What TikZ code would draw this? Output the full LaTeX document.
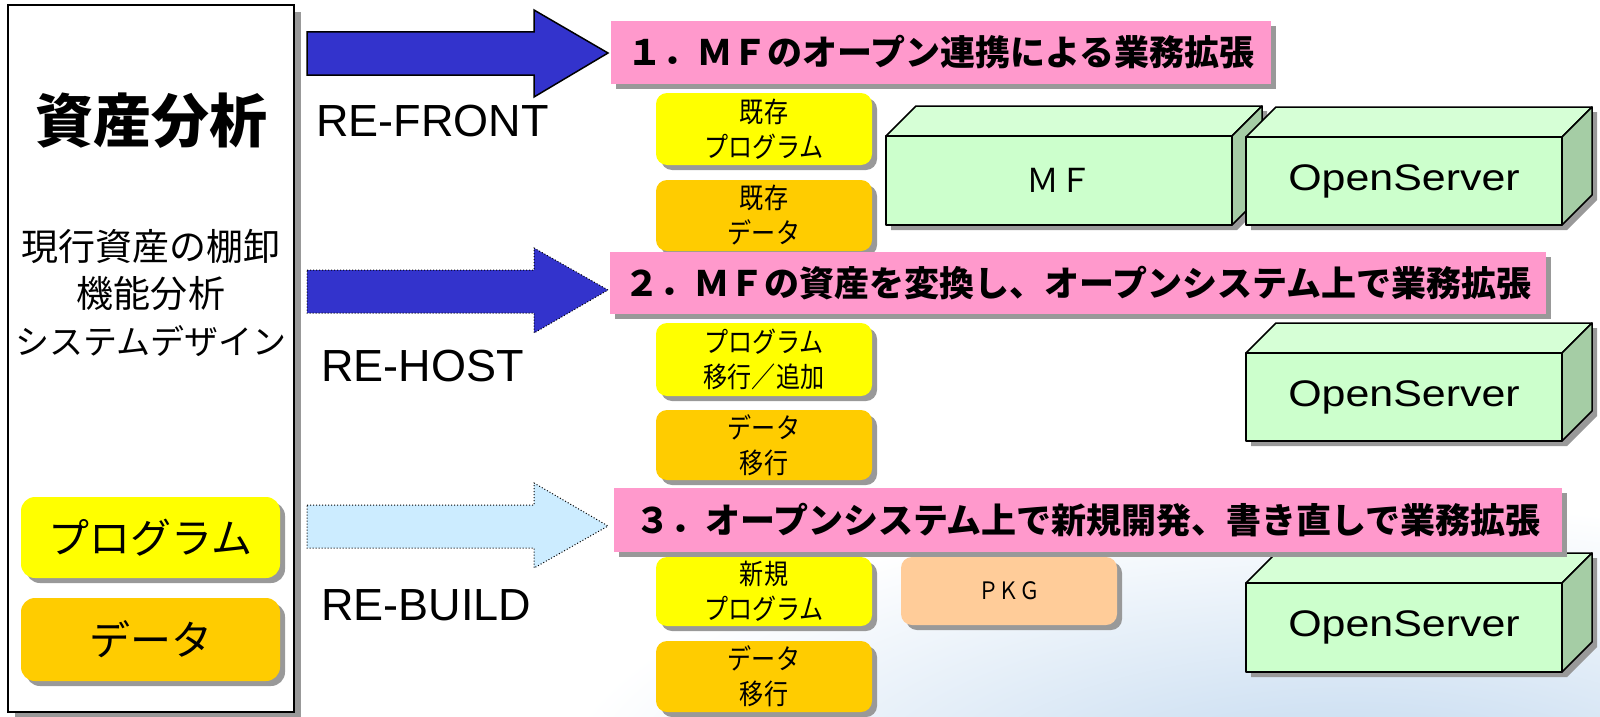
\documentclass[tikz,border=0pt]{standalone}
\usepackage{fontspec}
\setmainfont{Liberation Sans}
\newfontfamily\jp{Noto Sans CJK JP}
\newfontfamily\jpc[FakeStretch=0.86]{Noto Sans CJK JP}
\usetikzlibrary{shadows,fadings}
\definecolor{tpink}{RGB}{255,153,204}
\definecolor{arrowblue}{RGB}{51,51,204}
\definecolor{lightarrow}{RGB}{204,236,255}
\definecolor{progyellow}{RGB}{255,255,0}
\definecolor{datagold}{RGB}{255,204,0}
\definecolor{pkgpeach}{RGB}{255,204,153}
\definecolor{gfront}{RGB}{204,255,204}
\definecolor{gtop}{RGB}{214,255,214}
\definecolor{gside}{RGB}{165,205,165}
\definecolor{shadowgray}{RGB}{153,153,153}
\definecolor{bgblue}{RGB}{190,214,238}
\tikzset{
  shad/.style={drop shadow={shadow xshift=5pt, shadow yshift=-5pt, fill=shadowgray, opacity=1}},
  titlebox/.style={fill=tpink, shad, inner sep=0pt, font=\jp\bfseries\fontsize{35}{40}\selectfont},
  sbox/.style={rounded corners=11pt, shad, minimum width=216pt, inner sep=0pt, align=center, font=\jpc\fontsize{28}{35}\selectfont},
  bigbox/.style={rounded corners=14pt, shad, minimum width=259pt, inner sep=0pt, font=\jp\fontsize{41}{41}\selectfont},
  relabel/.style={anchor=west, inner sep=0pt, font=\fontsize{45}{45}\selectfont},
  solidarrow/.style={fill=arrowblue, draw=black, line width=1.5pt, line join=miter},
  dotarrow/.style={draw=black, line width=1pt, dotted},
  facefront/.style={fill=gfront, draw=black, line width=1.5pt, line join=round},
  facetop/.style={fill=gtop, draw=black, line width=1.5pt, line join=round},
  faceside/.style={fill=gside, draw=black, line width=1.5pt, line join=round},
  cubetext/.style={inner sep=0pt},
}
% name, x1, y1, x2, y2, text, font
\newcommand{\cuboidbox}[7]{%
  \fill[shadowgray] (#2+5,#5+5) -- (#4+5,#5+5) -- (#4+35,#5-25) -- (#4+35,#3-25) -- (#2+35,#3-25) -- (#2+5,#3+5) -- cycle;
  \draw[facetop] (#2,#3) -- (#2+30,#3-30) -- (#4+30,#3-30) -- (#4,#3) -- cycle;
  \draw[faceside] (#4,#3) -- (#4+30,#3-30) -- (#4+30,#5-30) -- (#4,#5) -- cycle;
  \draw[facefront] (#2,#3) rectangle (#4,#5);
  \node[cubetext, font=#7] (#1) at ({(#2+#4)/2},{(#3+#5)/2}) {#6};
}
\begin{document}
\begin{tikzpicture}[x=1pt, y=-1pt]
\useasboundingbox (0,0) rectangle (1600,717);
% faint background gradient (bottom right)
\begin{scope}
  \clip (0,0) rectangle (1600,717);
  \shade[inner color=bgblue, outer color=white] (1350,800) ellipse (800pt and 300pt);
\end{scope}

% left panel
\node[draw=black, line width=1.5pt, fill=white, minimum width=286pt, minimum height=707pt, inner sep=0pt,
      drop shadow={shadow xshift=7pt, shadow yshift=-7pt, fill=shadowgray, opacity=1}] (panel) at (151,358.5) {};
\node[font=\jp\bfseries\fontsize{58}{58}\selectfont, inner sep=0pt] (kbig) at (151,121) {資産分析};
\node[font=\jp\fontsize{37}{47}\selectfont, align=center, inner sep=0pt] (ktext) at (151,293) {現行資産の棚卸\\機能分析\\{\fontsize{34}{47}\selectfont システムデザイン}};
\node[bigbox, fill=progyellow, minimum height=81pt] (bprog) at (150.5,537.5) {プログラム};
\node[bigbox, fill=datagold, minimum height=83pt] (bdata) at (150.5,639.5) {データ};

% block arrows
\draw[solidarrow] (307,32) -- (534,32) -- (534,10) -- (608,53) -- (534,97) -- (534,75) -- (307,75) -- cycle;
\draw[dotarrow, fill=arrowblue] (307,270) -- (534,270) -- (534,248) -- (608,290) -- (534,333) -- (534,313) -- (307,313) -- cycle;
\draw[dotarrow, fill=lightarrow] (307,505) -- (534,505) -- (534,483) -- (608,526) -- (534,568) -- (534,548) -- (307,548) -- cycle;

\node[relabel] (lfront) at (316,121) {RE-FRONT};
\node[relabel] (lhost) at (321,366) {RE-HOST};
\node[relabel] (lbuild) at (321,605) {RE-BUILD};

% row 1
\node[sbox, fill=progyellow, minimum height=72pt] (b1p) at (764,129) {既存\\プログラム};
\node[sbox, fill=datagold, minimum height=71pt] (b1d) at (764,215.5) {既存\\データ};
\cuboidbox{mf}{886}{136}{1232}{225}{ＭＦ}{\jp\fontsize{33}{33}\selectfont}
\cuboidbox{os1}{1246}{137}{1562}{225}{\scalebox{1.16}[1]{OpenServer}}{\fontsize{37}{37}\selectfont}

% row 2
\node[sbox, fill=progyellow, minimum height=73pt] (b2p) at (764,359.5) {プログラム\\移行／追加};
\node[sbox, fill=datagold, minimum height=70pt] (b2d) at (764,445) {データ\\移行};
\cuboidbox{os2}{1246}{353}{1562}{441}{\scalebox{1.16}[1]{OpenServer}}{\fontsize{37}{37}\selectfont}

% row 3
\node[sbox, fill=progyellow, minimum height=69pt] (b3p) at (764,591.5) {新規\\プログラム};
\node[sbox, fill=datagold, minimum height=71pt] (b3d) at (764,676.5) {データ\\移行};
\node[sbox, fill=pkgpeach, minimum height=68pt, font=\jpc\fontsize{24}{24}\selectfont] (pkg) at (1009,591) {ＰＫＧ};
\cuboidbox{os3}{1246}{583}{1562}{672}{\scalebox{1.16}[1]{OpenServer}}{\fontsize{37}{37}\selectfont}

% titles
\node[titlebox, minimum width=660pt, minimum height=63pt] (t1) at (941,52.5) {１．ＭＦのオープン連携による業務拡張};
\node[titlebox, minimum width=936pt, minimum height=62pt] (t2) at (1078,283) {２．ＭＦの資産を変換し、オープンシステム上で業務拡張};
\node[titlebox, minimum width=948pt, minimum height=64pt] (t3) at (1088,520) {３．オープンシステム上で新規開発、書き直しで業務拡張};
\end{tikzpicture}
\end{document}
